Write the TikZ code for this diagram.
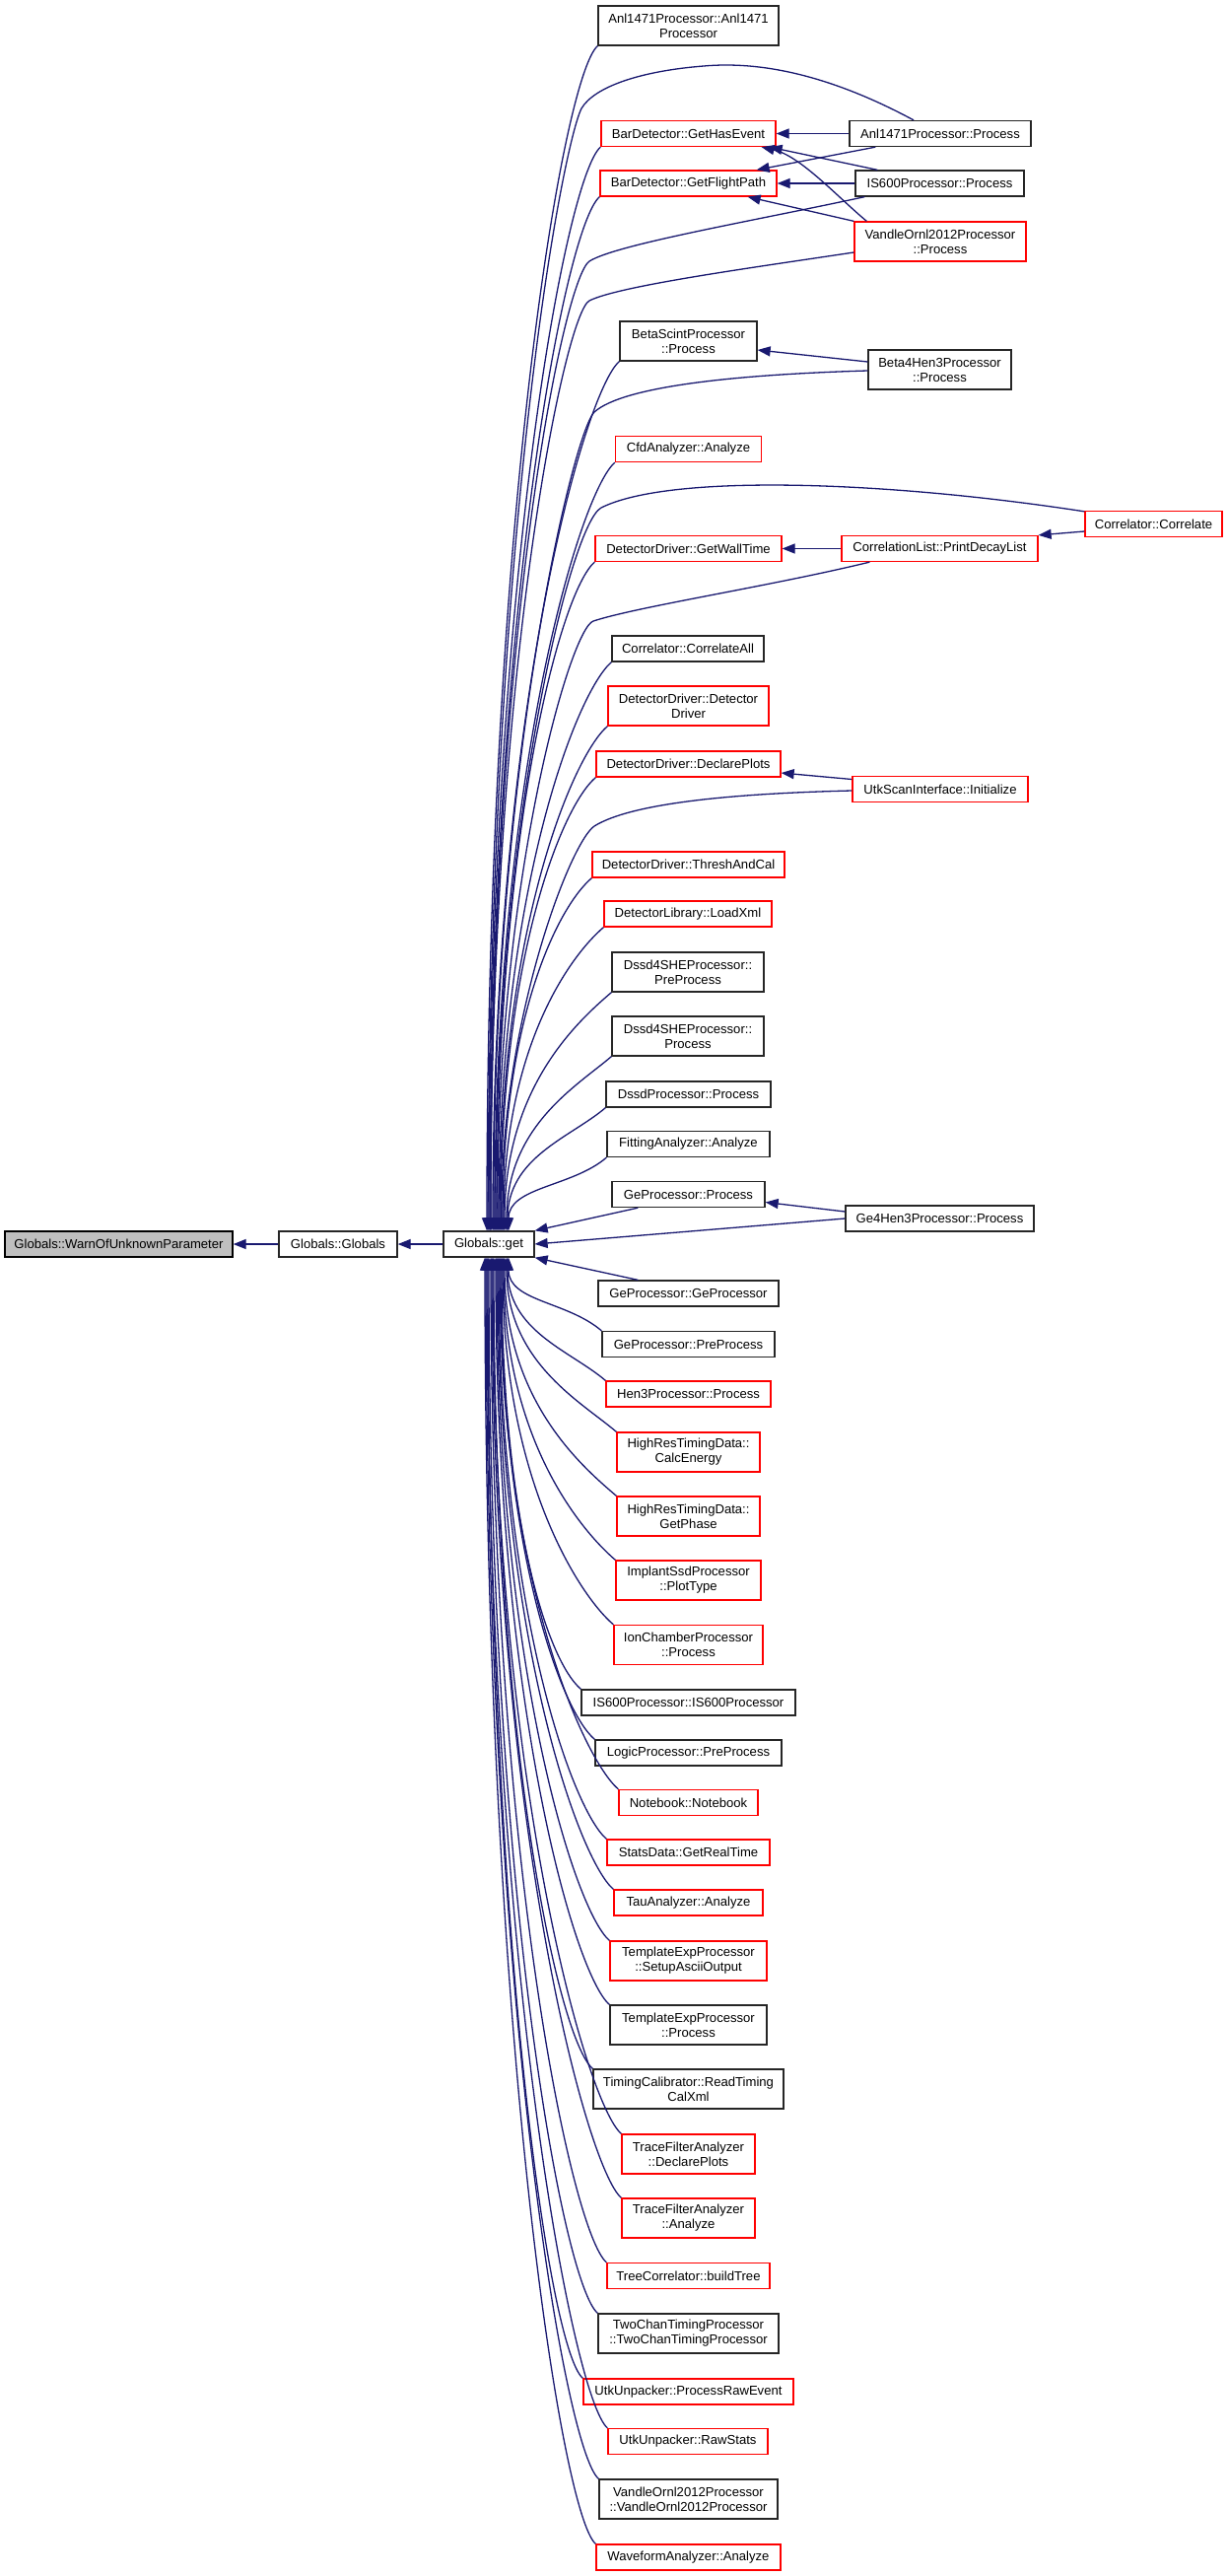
\documentclass[tikz,border=0pt]{standalone}
\usepackage{fontspec}
\setmainfont{Liberation Sans}
\usetikzlibrary{arrows.meta,calc}
\definecolor{mblue}{HTML}{191970}
\definecolor{nodegray}{HTML}{BFBFBF}
\tikzset{
  box/.style={draw, rectangle, fill=white, inner sep=0pt, align=center,
    font=\fontsize{13.1}{15}\selectfont, line width=1.3pt},
  blk/.style={box, draw=black!85},
  rd/.style={box, draw=red},
  one/.style={minimum height=26pt},
  two/.style={minimum height=40pt},
  conn/.style={draw=mblue, line width=1.3pt, -{Triangle[length=13pt,width=10pt]}}
}
\newcommand\upedge[2]{%
  \draw[conn] (#1.south west) .. controls ($(#1.south west)+(-35,30)$) and
    ($(get.north)!0.6!(get.north |- #1.south)+(#2,0)$) .. ($(get.north)+(#2,0)$);}
\newcommand\downedge[2]{%
  \draw[conn] (#1.north west) .. controls ($(#1.north west)+(-35,-30)$) and
    ($(get.south)!0.6!(get.south |- #1.north)+(#2,0)$) .. ($(get.south)+(#2,0)$);}
\begin{document}
\begin{tikzpicture}[x=1pt,y=-1pt]
\useasboundingbox (0,0) rectangle (1245,2613);
\fill[white] (0,0) rectangle (1245,2613);

% left chain
\node[box, fill=nodegray, draw=black, one, minimum width=231pt] (warn) at (120.5,1262) {Globals::WarnOfUnknownParameter};
\node[blk,one,minimum width=120pt] (globals) at (343,1262) {Globals::Globals};
\node[blk,one,minimum width=92pt] (get) at (496,1262) {Globals::get};

% column and right nodes
\node[blk,two,minimum width=183pt] (anlctor) at (698.5,26) {Anl1471Processor::Anl1471\\Processor};
\node[rd,one,minimum width=177pt] (hasev) at (698.5,135.5) {BarDetector::GetHasEvent};
\node[rd,one,minimum width=179pt] (flight) at (698.5,186) {BarDetector::GetFlightPath};
\node[blk,one,minimum width=184pt] (anlproc) at (954,135.5) {Anl1471Processor::Process};
\node[blk,one,minimum width=171pt] (is600p) at (953.5,186) {IS600Processor::Process};
\node[rd,two,minimum width=174pt] (vandlep) at (954,245) {VandleOrnl2012Processor\\::Process};
\node[blk,two,minimum width=139pt] (betascint) at (698.5,346) {BetaScintProcessor\\::Process};
\node[blk,two,minimum width=145pt] (beta4) at (953.5,375) {Beta4Hen3Processor\\::Process};
\node[rd,one,minimum width=148pt] (cfd) at (698.5,455.5) {CfdAnalyzer::Analyze};
\node[rd,one,minimum width=139pt] (correlate) at (1170.5,531.5) {Correlator::Correlate};
\node[rd,one,minimum width=189pt] (wall) at (698.5,556.5) {DetectorDriver::GetWallTime};
\node[rd,one,minimum width=199pt] (printdecay) at (953.5,556.5) {CorrelationList::PrintDecayList};
\node[blk,one,minimum width=154pt] (corrall) at (698,658) {Correlator::CorrelateAll};
\node[rd,two,minimum width=163pt] (ddctor) at (698.5,716) {DetectorDriver::Detector\\Driver};
\node[rd,one,minimum width=187pt] (declare) at (698.5,775) {DetectorDriver::DeclarePlots};
\node[rd,one,minimum width=178pt] (utkinit) at (954,800.5) {UtkScanInterface::Initialize};
\node[rd,one,minimum width=195pt] (thresh) at (698.5,877) {DetectorDriver::ThreshAndCal};
\node[rd,one,minimum width=170pt] (loadxml) at (698,927) {DetectorLibrary::LoadXml};
\node[blk,two,minimum width=154pt] (dssdpre) at (698,986) {Dssd4SHEProcessor::\\PreProcess};
\node[blk,two,minimum width=154pt] (dssdproc) at (698,1051) {Dssd4SHEProcessor::\\Process};
\node[blk,one,minimum width=167pt] (dssdp) at (698.5,1110) {DssdProcessor::Process};
\node[blk,one,minimum width=165pt] (fitting) at (698.5,1160.5) {FittingAnalyzer::Analyze};
\node[blk,one,minimum width=155pt] (geproc) at (698.5,1211.5) {GeProcessor::Process};
\node[blk,one,minimum width=191pt] (ge4) at (953.5,1236) {Ge4Hen3Processor::Process};
\node[blk,one,minimum width=183pt] (gector) at (698.5,1312) {GeProcessor::GeProcessor};
\node[blk,one,minimum width=175pt] (gepre) at (698.5,1363.5) {GeProcessor::PreProcess};
\node[rd,one,minimum width=167pt] (hen3) at (698.5,1414) {Hen3Processor::Process};
\node[rd,two,minimum width=145pt] (calce) at (698.5,1473) {HighResTimingData::\\CalcEnergy};
\node[rd,two,minimum width=145pt] (phase) at (698.5,1538) {HighResTimingData::\\GetPhase};
\node[rd,two,minimum width=147pt] (implant) at (698.5,1603) {ImplantSsdProcessor\\::PlotType};
\node[rd,two,minimum width=151pt] (ion) at (698.5,1668.5) {IonChamberProcessor\\::Process};
\node[blk,one,minimum width=217pt] (is600ctor) at (698.5,1727) {IS600Processor::IS600Processor};
\node[blk,one,minimum width=189pt] (logic) at (698.5,1778) {LogicProcessor::PreProcess};
\node[rd,one,minimum width=141pt] (notebook) at (698.5,1828.5) {Notebook::Notebook};
\node[rd,one,minimum width=165pt] (stats) at (698.5,1879) {StatsData::GetRealTime};
\node[rd,one,minimum width=151pt] (tau) at (698.5,1930) {TauAnalyzer::Analyze};
\node[rd,two,minimum width=159pt] (tsetup) at (698.5,1989) {TemplateExpProcessor\\::SetupAsciiOutput};
\node[blk,two,minimum width=159pt] (tproc) at (698.5,2054) {TemplateExpProcessor\\::Process};
\node[blk,two,minimum width=193pt] (timing) at (698.5,2119) {TimingCalibrator::ReadTiming\\CalXml};
\node[rd,two,minimum width=135pt] (tfdecl) at (698.5,2185) {TraceFilterAnalyzer\\::DeclarePlots};
\node[rd,two,minimum width=135pt] (tfan) at (698.5,2250) {TraceFilterAnalyzer\\::Analyze};
\node[rd,one,minimum width=165pt] (tree) at (698.5,2308.5) {TreeCorrelator::buildTree};
\node[blk,two,minimum width=183pt] (twochan) at (698.5,2367) {TwoChanTimingProcessor\\::TwoChanTimingProcessor};
\node[rd,one,minimum width=213pt] (rawevent) at (698.5,2426) {UtkUnpacker::ProcessRawEvent};
\node[rd,one,minimum width=162pt] (rawstats) at (698,2476.5) {UtkUnpacker::RawStats};
\node[blk,two,minimum width=181pt] (vandlector) at (698.5,2535) {VandleOrnl2012Processor\\::VandleOrnl2012Processor};
\node[rd,one,minimum width=187pt] (waveform) at (698.5,2594) {WaveformAnalyzer::Analyze};

% left chain edges
\draw[conn] (globals.west) -- (warn.east);
\draw[conn] (get.west) -- (globals.east);

% upper column edges to get
\upedge{anlctor}{-2}
\upedge{hasev}{0}
\upedge{flight}{1}
\upedge{betascint}{4}
\upedge{cfd}{6}
\upedge{wall}{8}
\upedge{corrall}{10}
\upedge{ddctor}{11}
\upedge{declare}{12}
\upedge{thresh}{14}
\upedge{loadxml}{15}
\upedge{dssdpre}{16}
\upedge{dssdproc}{18}
\upedge{dssdp}{19}
\upedge{fitting}{20}

% lower column edges to get
\downedge{gepre}{20}
\downedge{hen3}{19}
\downedge{calce}{18}
\downedge{phase}{16}
\downedge{implant}{15}
\downedge{ion}{14}
\downedge{is600ctor}{13}
\downedge{logic}{12}
\downedge{notebook}{11}
\downedge{stats}{10}
\downedge{tau}{9}
\downedge{tsetup}{8}
\downedge{tproc}{7}
\downedge{timing}{5}
\downedge{tfdecl}{4}
\downedge{tfan}{3}
\downedge{tree}{2}
\downedge{twochan}{0}
\downedge{rawevent}{-1}
\downedge{rawstats}{-2}
\downedge{vandlector}{-3}
\downedge{waveform}{-4}

% near edges (straight)
\draw[conn] ($(geproc.south west)+(27,0)$) -- (get.north east);
\draw[conn] ($(gector.north west)+(41,0)$) -- (get.south east);
\draw[conn] (ge4.west) -- (get.east);
\draw[conn] ($(ge4.west)+(0,-7)$) -- ($(geproc.east)+(0,8)$);

% right nodes to get
\draw[conn] ($(anlproc.north)+(-27,0)$) .. controls (840,75) and (770,62) .. (714,67)
  .. controls (650,72) and (603,88) .. (590,110)
  .. controls (572,145) and (497,520) .. ($(get.north)+(-1,0)$);
\draw[conn] ($(is600p.south west)+(10,0)$) .. controls (760,225) and (625,248) .. (598,265)
  .. controls (572,282) and (497,640) .. ($(get.north)+(2,0)$);
\draw[conn] ($(vandlep.west)+(0,11)$) .. controls (760,272) and (628,290) .. (598,305)
  .. controls (573,318) and (497,680) .. ($(get.north)+(2,0)$);
\draw[conn] ($(beta4.west)+(0,1)$) .. controls (745,380) and (632,392) .. (603,418)
  .. controls (582,438) and (499,780) .. ($(get.north)+(5,0)$);
\draw[conn] ($(correlate.north west)+(0,1)$) .. controls (900,488) and (680,480) .. (610,515)
  .. controls (578,532) and (501,850) .. ($(get.north)+(7,0)$);
\draw[conn] ($(printdecay.south west)+(29,0)$) .. controls (780,595) and (648,615) .. (602,630)
  .. controls (578,638) and (503,900) .. ($(get.north)+(9,0)$);
\draw[conn] ($(utkinit.west)+(0,1.5)$) .. controls (740,805) and (640,815) .. (603,838)
  .. controls (578,855) and (507,1040) .. ($(get.north)+(13,0)$);

% right nodes to column nodes
\draw[conn] (anlproc.west) -- (hasev.east);
\draw[conn] ($(anlproc.south west)+(27,0)$) -- ($(flight.north east)+(-21,0)$);
\draw[conn] (is600p.west) -- (flight.east);
\draw[conn] ($(is600p.north west)+(23,0)$) -- ($(hasev.south east)+(-7,0)$);
\draw[conn] (vandlep.north west) -- ($(flight.south east)+(-30,0)$);
\draw[conn] ($(vandlep.north west)+(13,0)$) .. controls (850,200) and (812,158) .. ($(hasev.south east)+(-15,0)$);
\draw[conn] ($(beta4.west)+(0,-8)$) -- ($(betascint.east)+(0,9)$);
\draw[conn] (printdecay.west) -- (wall.east);
\draw[conn] ($(correlate.west)+(0,7.5)$) -- (printdecay.north east);
\draw[conn] ($(utkinit.west)+(0,-10)$) -- ($(declare.east)+(0,9)$);
\end{tikzpicture}
\end{document}
